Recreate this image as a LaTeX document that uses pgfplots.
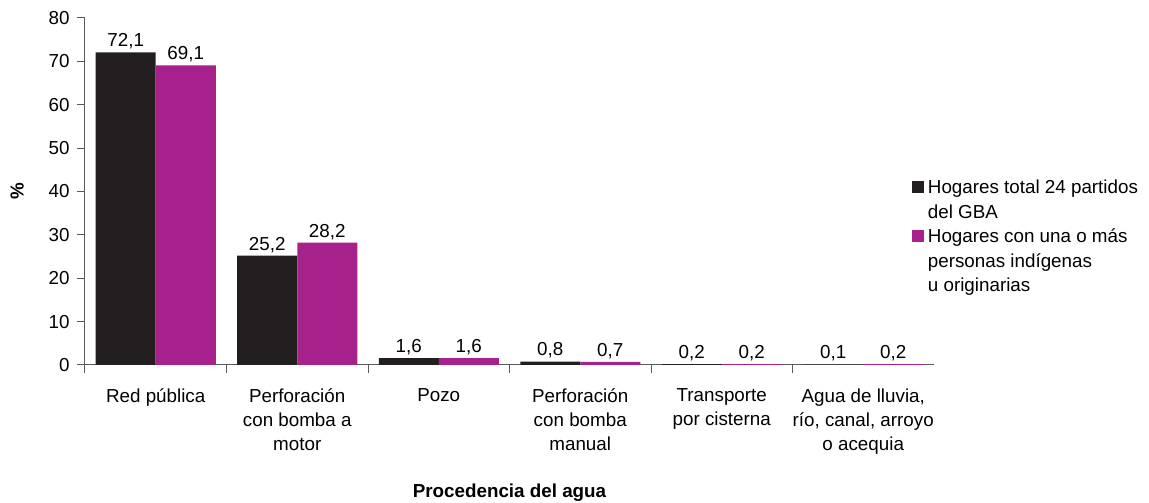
\documentclass[border=0pt]{standalone}
\usepackage{fontspec}
\setmainfont{Liberation Sans}
\usepackage{pgfplots}
\pgfplotsset{compat=1.18}
\definecolor{barblack}{HTML}{231F20}
\definecolor{barmag}{HTML}{A6218C}
\definecolor{axisgray}{HTML}{58595B}
\begin{document}
\begin{tikzpicture}[font=\fontsize{18.8}{23}\selectfont]
\begin{axis}[
  at={(0,0)}, anchor=south west,
  scale only axis, width=849pt, height=347pt,
  xmin=-0.5, xmax=5.5, ymin=0, ymax=80,
  ybar=0pt, bar width=60pt,
  axis x line*=bottom, axis y line*=left,
  axis line style={axisgray, line width=1pt},
  ytick={0,10,...,80},
  xtick={0,...,5},
  xticklabels={Red pública,
    {Perforación\\con bomba a\\motor},
    Pozo,
    {Perforación\\con bomba\\manual},
    {Transporte\\por cisterna},
    {Agua de lluvia,\\río, canal, arroyo\\o acequia}},
  major x tick style={draw=none},
  minor xtick={-0.5,0.5,1.5,2.5,3.5,4.5},
  tick align=outside,
  tick style={axisgray, line width=1pt},
  major tick length=8pt, minor tick length=8pt,
  x tick label style={align=center, anchor=north, yshift=-12pt, font=\fontsize{18.8}{24}\selectfont},
  y tick label style={xshift=-4pt, font=\fontsize{18.8}{23}\selectfont},
  /pgf/number format/assume math mode=true,
  xlabel={Procedencia del agua},
  ylabel={\%},
  xlabel style={at={(axis description cs:0.5,-0.369)}, anchor=center, font=\fontsize{18.8}{23}\selectfont\bfseries},
  ylabel style={at={(axis description cs:-0.08,0.5)}, anchor=center, font=\fontsize{18.8}{23}\selectfont\bfseries},
  nodes near coords,
  nodes near coords style={font=\fontsize{18.8}{23}\selectfont, inner sep=3pt,
    /pgf/number format/.cd, fixed, fixed zerofill, precision=1, use comma, assume math mode=true},
  legend cell align=left,
  legend style={draw=none, fill=none, inner sep=0pt, outer sep=0pt,
    at={(0.974,0.534)}, anchor=north west, row sep=6.5pt,
    nodes={inner sep=0pt, text height=14pt, text depth=4pt}, column sep=4pt},
  legend image code/.code={\fill[#1] (0pt,-4pt) rectangle (12pt,8pt);},
]
\addplot[fill=barblack, draw=none, bar shift=-30pt, forget plot] coordinates {(0,72.1) (1,25.2) (2,1.6) (3,0.8) (4,0.2) (5,0.1)};
\addplot[fill=barmag, draw=none, bar shift=30pt, forget plot] coordinates {(0,69.1) (1,28.2) (2,1.6) (3,0.7) (4,0.2) (5,0.2)};
\addlegendimage{fill=barblack, draw=none}
\addlegendentry{Hogares total 24 partidos}
\addlegendimage{empty legend}
\addlegendentry{del GBA}
\addlegendimage{fill=barmag, draw=none}
\addlegendentry{Hogares con una o más}
\addlegendimage{empty legend}
\addlegendentry{personas indígenas}
\addlegendimage{empty legend}
\addlegendentry{u originarias}
\coordinate (O) at (rel axis cs:0,0);
\end{axis}
\pgfresetboundingbox
\path ([shift={(-85pt,-138pt)}]O) rectangle ([shift={(1064pt,365pt)}]O);
\end{tikzpicture}
\end{document}
